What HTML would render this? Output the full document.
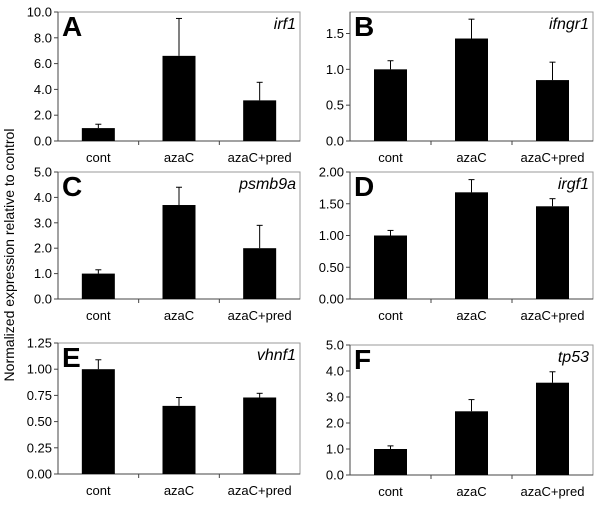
<!DOCTYPE html>
<html><head><meta charset="utf-8"><style>
body{margin:0;background:#fff;}
svg text{font-family:"Liberation Sans",sans-serif;}
</style></head><body>
<svg id="c" width="600" height="509" xmlns="http://www.w3.org/2000/svg">
<text x="14" y="255" font-size="14" text-anchor="middle" transform="rotate(-90 14 255)">Normalized expression relative to control</text>
</svg>
<script>
const categories=["cont","azaC","azaC+pred"];
const letters=["A","B","C","D","E","F"];
const genes=["irf1","ifngr1","psmb9a","irgf1","vhnf1","tp53"];
const valsA=[1.0,6.6,3.15], errA=[0.3,2.9,1.4];
const valsB=[1.0,1.43,0.85], errB=[0.12,0.27,0.25];
const valsC=[1.0,3.7,2.0], errC=[0.15,0.7,0.9];
const valsD=[1.0,1.68,1.46], errD=[0.08,0.2,0.12];
const valsE=[1.0,0.65,0.73], errE=[0.09,0.08,0.04];
const valsF=[1.0,2.45,3.55], errF=[0.12,0.45,0.42];
const ticksA=["0.0","2.0","4.0","6.0","8.0","10.0"];
const ticksB=["0.0","0.5","1.0","1.5"];
const ticksC=["0.0","1.0","2.0","3.0","4.0","5.0"];
const ticksD=["0.00","0.50","1.00","1.50","2.00"];
const ticksE=["0.00","0.25","0.50","0.75","1.00","1.25"];
const ticksF=["0.0","1.0","2.0","3.0","4.0","5.0"];
const panels=[
 {x:58,y:12,w:242,h:129,max:10,vals:valsA,err:errA,ticks:ticksA},
 {x:350,y:12,w:243,h:129,max:1.8,vals:valsB,err:errB,ticks:ticksB},
 {x:58,y:172,w:242,h:127,max:5,vals:valsC,err:errC,ticks:ticksC},
 {x:350,y:172,w:243,h:127,max:2,vals:valsD,err:errD,ticks:ticksD},
 {x:58,y:343,w:242,h:131,max:1.25,vals:valsE,err:errE,ticks:ticksE},
 {x:350,y:345,w:243,h:130,max:5,vals:valsF,err:errF,ticks:ticksF}
];
const svg=document.getElementById('c');
const NS="http://www.w3.org/2000/svg";
function mk(t,a,p){const e=document.createElementNS(NS,t);for(const k in a)e.setAttribute(k,a[k]);(p||svg).appendChild(e);return e;}
panels.forEach((p,i)=>{
 const g=mk('g',{});
 
 
 const ys=v=>p.y+p.h-v/p.max*p.h;
 const cw=p.w/categories.length;
 const xs=j=>p.x+cw*j+cw/2;
 const fr=mk('rect',{x:p.x,y:p.y,width:p.w,height:p.h,fill:'none',stroke:'#999','stroke-width':1},g);
 
 
 mk('line',{x1:p.x,y1:p.y,x2:p.x,y2:p.y+p.h,stroke:'#444'},g);
 mk('line',{x1:p.x,y1:p.y+p.h,x2:p.x+p.w,y2:p.y+p.h,stroke:'#444'},g);
 const step=parseFloat(p.ticks[1]);
 p.ticks.forEach((t,k)=>{
  const y=ys(k*step);
  mk('line',{x1:p.x-4,y1:y,x2:p.x,y2:y,stroke:'#444'},g);
  const tx=mk('text',{x:p.x-6,y:y+4.5,'font-size':13,'text-anchor':'end'},g);
  tx.textContent=t;
  
  
 });
 for(let j=1;j<categories.length;j++) mk('line',{x1:p.x+cw*j,y1:p.y+p.h,x2:p.x+cw*j,y2:p.y+p.h+4,stroke:'#444'},g);
 categories.forEach((c,j)=>{
  const v=p.vals[j],e=p.err[j];
  const b=mk('rect',{x:xs(j)-16.5,y:ys(v),width:33,height:ys(0)-ys(v),fill:'#000'},g);
  
  
  mk('line',{x1:xs(j),y1:ys(v),x2:xs(j),y2:ys(v+e),stroke:'#000','stroke-width':1},g);
  const cap=mk('line',{x1:xs(j)-3,y1:ys(v+e),x2:xs(j)+3,y2:ys(v+e),stroke:'#000','stroke-width':1},g);
  
  
  const lt=mk('text',{x:xs(j),y:p.y+p.h+21,'font-size':13,'text-anchor':'middle'},g);
  lt.textContent=c;
  
  
 });
 const L=mk('text',{x:p.x+4,y:p.y+24,'font-size':28,'font-weight':'bold'},g);
 L.textContent=letters[i];
 
 
 const G=mk('text',{x:p.x+p.w-4,y:p.y+17,'font-size':16,'font-style':'italic','text-anchor':'end'},g);
 G.textContent=genes[i];
 
 
});
</script>
</body></html>
